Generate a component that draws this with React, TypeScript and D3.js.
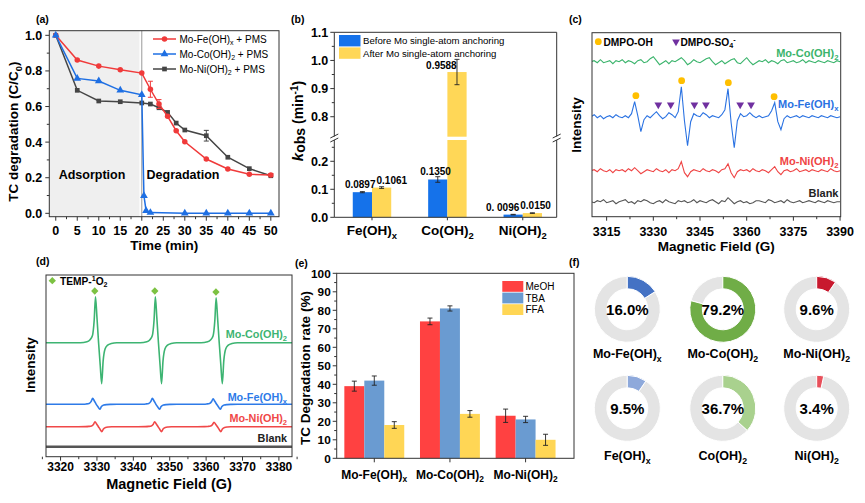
import React from "react";
import * as d3 from "d3";

const FONT = "'Liberation Sans', Arial, Helvetica, sans-serif";

// ---------------- (a) TC degradation ----------------
const timeA = [0, 5, 10, 15, 20, 22, 24, 26, 28, 30, 35, 40, 45, 50];
const moFeA = [1.0, 0.861, 0.827, 0.807, 0.788, 0.697, 0.614, 0.545, 0.464, 0.402, 0.305, 0.249, 0.219, 0.215];
const moFeAErr = [0, 0, 0, 0, 0, 0.045, 0.025, 0, 0, 0, 0, 0, 0, 0.008];
const timeCoA = [0, 5, 10, 15, 20, 20.5, 21, 22, 30, 35, 40, 45, 50];
const moCoA = [1.0, 0.758, 0.743, 0.691, 0.666, 0.099, 0.015, 0.004, 0, 0, 0, 0, 0];
const moNiA = [1.0, 0.691, 0.631, 0.627, 0.62, 0.614, 0.593, 0.567, 0.507, 0.468, 0.436, 0.315, 0.251, 0.211];
const moNiAErr = [0, 0, 0, 0, 0, 0, 0, 0, 0, 0, 0.03, 0, 0, 0];
const legendA = ["Mo-Fe(OH)_x + PMS", "Mo-Co(OH)_2 + PMS", "Mo-Ni(OH)_2 + PMS"];
const xTicksA = [0, 5, 10, 15, 20, 25, 30, 35, 40, 45, 50];
const yTicksA = [0, 0.2, 0.4, 0.6, 0.8, 1.0];

// ---------------- (b) kobs ----------------
const catB = ["Fe(OH)_x", "Co(OH)_2", "Ni(OH)_2"];
const beforeB = [0.0897, 0.135, 0.0096];
const afterB = [0.1061, 0.9588, 0.015];
const beforeErrB = [0.002, 0.01, 0.001];
const afterErrB = [0.003, 0.045, 0.001];
const beforeLblB = ["0.0897", "0.1350", "0. 0096"];
const afterLblB = ["0.1061", "0.9588", "0.0150"];
const legendB = ["Before Mo single-atom anchoring", "After Mo single-atom anchoring"];
const yTicksBLow = [0, 0.1, 0.2];
const yTicksBHigh = [0.8, 0.9, 1.0, 1.1];

// ---------------- (c) DMPO EPR (1 G steps from 3310 G) ----------------
const fieldStartC = 3310;
const moCoC = [0, 1, -1, 2, -1, 0, 1, -2, 1, 0, 2, -1, 1, 0, -2, 1, 2, -1, 0, 3, 5, 1, -3, -1, 1, -2, 1, 0, 2, 4, 1, -3, -1, 2, 0, -1, 1, 3, 4, 0, -3, -1, 1, -2, 0, 2, 3, -1, -2, 1, 4, 0, -3, -1, 1, 0, 2, -1, 1, 0, -2, 1, 2, -1, 0, 1, -1, 0, 2, -1, 1, 0, -1, 1, 0, -1, 1, 0, -1, 1, 0];
const moFeC = [0, 2, -1, 1, -2, 0, 1, -1, 2, 0, -1, 1, -1, 3, 15, 1, -15, -3, 1, -1, 2, 5, 1, -2, 0, 4, 2, -1, 5, 30, -4, -29, -5, 3, 1, 0, 4, 2, -1, 1, 0, -1, 2, 7, 28, -6, -31, -4, 3, 0, 1, 4, 1, -1, 1, -1, 0, 1, 6, 14, -5, -13, -2, 1, -1, 0, 1, -1, 1, 0, -1, 1, 0, -1, 1, 0, -1, 1, 0, -1, 0];
const moNiC = [0, 1, -1, 2, 0, -1, 1, -2, 1, 0, 1, -1, 2, 0, 3, 0, -3, -1, 1, 0, -1, 2, 0, -1, 1, -2, 1, 0, 2, 9, -2, -6, -1, 1, 0, -1, 2, 0, -1, 1, 0, -2, 1, 2, 7, -2, -7, -1, 1, 0, 1, -1, 2, 0, -1, 1, 0, -2, 1, 4, -1, -4, 0, 1, -1, 0, 2, -1, 0, 1, -1, 1, 0, -1, 1, 0, -1, 2, 0, -1, 0];
const blankC = [0, -1, 1, 0, 2, -1, 0, 1, -2, 0, 1, 2, -1, 0, -2, 1, 0, 2, 1, -1, -2, 0, 1, -1, 2, 0, -1, -2, 1, 0, 1, -1, 0, 2, -1, 1, 0, -1, 1, 2, 0, -2, 1, 0, 4, 1, -2, 0, 1, -1, 0, -2, -1, 1, 1, 0, -1, 2, 1, -1, 0, 1, -1, 2, 0, -1, 0, 1, -1, 0, 1, 0, -1, 1, 0, -1, 1, 0, -1, 0, 0];
const ohMarksC = [3324.4, 3339.1, 3354.1, 3368.8];
const so4MarksC = [3331.6, 3335.6, 3343.2, 3346.9, 3357.9, 3361.4];
const xTicksC = [3315, 3330, 3345, 3360, 3375, 3390];

// ---------------- (d) TEMP EPR ----------------
const coCentresD = [3330.45, 3346.9, 3363.6];
const coUpD = [46, 46, 45];
const coDownD = [41, 41, 41];
const feCentresD = [3329.8, 3346.2, 3362.9];
const feUpD = [6, 6, 5.5];
const feDownD = [5, 5, 5];
const niCentresD = [3330.4, 3346.8, 3363.1];
const niUpD = [5, 5, 4.5];
const niDownD = [5, 5, 5];
const tempMarksD = [3329.4, 3345.9, 3362.7];
const xTicksD = [3320, 3330, 3340, 3350, 3360, 3370, 3380];

// ---------------- (e) scavengers ----------------
const catE = ["Mo-Fe(OH)_x", "Mo-Co(OH)_2", "Mo-Ni(OH)_2"];
const meohE = [39, 74, 23];
const meohErrE = [2.7, 1.8, 3.6];
const tbaE = [42, 81, 21];
const tbaErrE = [2.5, 1.4, 1.7];
const ffaE = [18, 24, 10];
const ffaErrE = [1.8, 1.8, 3.0];
const legendE = ["MeOH", "TBA", "FFA"];
const yTicksE = [0, 10, 20, 30, 40, 50, 60, 70, 80, 90, 100];

// ---------------- (f) donuts ----------------
const donutLabels = ["Mo-Fe(OH)_x", "Mo-Co(OH)_2", "Mo-Ni(OH)_2", "Fe(OH)_x", "Co(OH)_2", "Ni(OH)_2"];
const donutValues = [16.0, 79.2, 9.6, 9.5, 36.7, 3.4];
const donutText = ["16.0%", "79.2%", "9.6%", "9.5%", "36.7%", "3.4%"];

// ---------------- helpers ----------------
function parts(s: string, size: number) {
  const re = /([_^])(\{[^}]*\}|.)/g;
  const out: { t: string; k: number }[] = [];
  let last = 0;
  let m: RegExpExecArray | null;
  while ((m = re.exec(s))) {
    if (m.index > last) out.push({ t: s.slice(last, m.index), k: 0 });
    let t = m[2];
    if (t[0] === "{") t = t.slice(1, -1);
    out.push({ t, k: m[1] === "_" ? 1 : -1 });
    last = re.lastIndex;
  }
  if (last < s.length) out.push({ t: s.slice(last), k: 0 });
  let off = 0;
  return out.map((p, i) => {
    const target = p.k === 1 ? size * 0.28 : p.k === -1 ? -size * 0.38 : 0;
    const dy = target - off;
    off = target;
    return (
      <tspan key={i} dy={dy} fontSize={p.k ? size * 0.7 : size}>
        {p.t}
      </tspan>
    );
  });
}

function T({ x, y, s, size = 12, w = "bold", a = "start", fill = "#000", rot = 0 }: any) {
  return (
    <text
      transform={`translate(${x},${y})` + (rot ? ` rotate(${rot})` : "")}
      fontSize={size}
      fontWeight={w}
      textAnchor={a}
      fill={fill}
      fontFamily={FONT}
    >
      {parts(s, size)}
    </text>
  );
}

const AX = "#333";

function PanelA() {
  const x = d3.scaleLinear([-1.5, 51.9], [49.3, 279]);
  const y = d3.scaleLinear([-0.019, 1.026], [216.7, 30.7]);
  const [L, R] = x.range();
  const [B, TOP] = y.range();
  const line = d3.line<[number, number]>().x((d) => x(d[0])).y((d) => y(d[1]));
  const series = [
    { t: timeA, v: moNiA, e: moNiAErr, c: "#454545", sym: d3.symbolSquare, sz: 22 },
    { t: timeA, v: moFeA, e: moFeAErr, c: "#F03A3A", sym: d3.symbolCircle, sz: 24 },
    { t: timeCoA, v: moCoA, e: null as any, c: "#1E6FE3", sym: d3.symbolTriangle, sz: 26 },
  ];
  const legendOrder = [1, 2, 0];
  return (
    <g>
      <rect x={L} y={TOP} width={x(19.45) - L} height={B - TOP} fill="#EFEFEF" />
      <line x1={x(20)} x2={x(20)} y1={TOP} y2={B} stroke="#9A9A9A" strokeWidth={1} />
      <rect x={L} y={TOP} width={R - L} height={B - TOP} fill="none" stroke={AX} />
      {xTicksA.map((t) => (
        <g key={t}>
          <line x1={x(t)} x2={x(t)} y1={B} y2={B + 4} stroke={AX} />
          <T x={x(t)} y={B + 18} s={String(t)} size={12.5} a="middle" />
        </g>
      ))}
      {xTicksA.slice(0, -1).map((t) => (
        <line key={"m" + t} x1={x(t + 2.5)} x2={x(t + 2.5)} y1={B} y2={B + 2.5} stroke={AX} />
      ))}
      {yTicksA.map((t) => (
        <g key={t}>
          <line x1={L - 4} x2={L} y1={y(t)} y2={y(t)} stroke={AX} />
          <T x={L - 7} y={y(t) + 4.5} s={t.toFixed(1)} size={12.5} a="end" />
        </g>
      ))}
      {yTicksA.slice(0, -1).map((t) => (
        <line key={"m" + t} x1={L - 2.5} x2={L} y1={y(t + 0.1)} y2={y(t + 0.1)} stroke={AX} />
      ))}
      {series.map((s, si) => (
        <g key={si}>
          <path d={line(s.t.map((t, i) => [t, s.v[i]]) as any) || ""} fill="none" stroke={s.c} strokeWidth={1.5} />
          {s.e &&
            s.t.map((t, i) =>
              s.e[i] > 0 ? (
                <g key={"e" + i} stroke={s.c} strokeWidth={1}>
                  <line x1={x(t)} x2={x(t)} y1={y(s.v[i] - s.e[i])} y2={y(s.v[i] + s.e[i])} />
                  <line x1={x(t) - 2.5} x2={x(t) + 2.5} y1={y(s.v[i] - s.e[i])} y2={y(s.v[i] - s.e[i])} />
                  <line x1={x(t) - 2.5} x2={x(t) + 2.5} y1={y(s.v[i] + s.e[i])} y2={y(s.v[i] + s.e[i])} />
                </g>
              ) : null
            )}
          {s.t.map((t, i) => (
            <path key={i} transform={`translate(${x(t)},${y(s.v[i])})`} d={d3.symbol(s.sym, s.sz)() || ""} fill={s.c} />
          ))}
        </g>
      ))}
      {legendOrder.map((si, k) => {
        const s = series[si];
        const ly = 39 + k * 15;
        return (
          <g key={k}>
            <line x1={153} x2={176} y1={ly} y2={ly} stroke={s.c} strokeWidth={1.5} />
            <path transform={`translate(164.5,${ly})`} d={d3.symbol(s.sym, s.sz)() || ""} fill={s.c} />
            <T x={179.5} y={ly + 3.6} s={legendA[k]} size={10} w="normal" />
          </g>
        );
      })}
      <T x={92} y={178.5} s="Adsorption" size={12.5} a="middle" />
      <T x={183} y={178.5} s="Degradation" size={12.5} a="middle" />
      <T x={(L + R) / 2} y={250} s="Time (min)" size={13.5} a="middle" />
      <T x={18} y={131.7} s="TC degradation (C/C_0)" size={13.5} a="middle" rot={-90} />
      <T x={36} y={23} s="(a)" size={10.5} />
    </g>
  );
}

function PanelB() {
  const x = d3.scaleLinear([0.5, 3.45], [334.3, 556.7]);
  const yLo = d3.scaleLinear([0, 0.276], [217.3, 140]);
  const yHi = d3.scaleLinear([0.729, 1.1], [136.7, 32.3]);
  const y = (v: number) => (v <= 0.276 ? yLo(v) : yHi(v));
  const [L, R] = x.range();
  const B = 217.3;
  const TOP = 32.3;
  const bw = x(0.255) - x(0);
  const blue = "#1572EA";
  const yellow = "#FFD757";
  const shift = [0, 0, -7];
  const bar = (cx: number, v: number, c: string, key: string) => {
    const els = [] as any[];
    els.push(<rect key={key + "lo"} x={cx - bw / 2} y={yLo(Math.min(v, 0.276))} width={bw} height={B - yLo(Math.min(v, 0.276))} fill={c} />);
    if (v > 0.729) els.push(<rect key={key + "hi"} x={cx - bw / 2} y={yHi(v)} width={bw} height={yHi(0.729) - yHi(v)} fill={c} />);
    return els;
  };
  const err = (cx: number, v: number, e: number, key: string) => (
    <g key={key} stroke="#222" strokeWidth={0.9}>
      <line x1={cx} x2={cx} y1={y(v - e)} y2={y(v + e)} />
      <line x1={cx - 2.5} x2={cx + 2.5} y1={y(v - e)} y2={y(v - e)} />
      <line x1={cx - 2.5} x2={cx + 2.5} y1={y(v + e)} y2={y(v + e)} />
    </g>
  );
  const brk = (bx: number) => (
    <g stroke={AX} strokeWidth={1}>
      <rect x={bx - 2} y={136.7} width={4} height={3.3} fill="#fff" stroke="none" />
      <line x1={bx - 4} x2={bx + 4} y1={138} y2={134} />
      <line x1={bx - 4} x2={bx + 4} y1={142} y2={138} />
    </g>
  );
  return (
    <g>
      {catB.map((c, i) => {
        const gc = x(i + 1);
        return (
          <g key={c}>
            {bar(gc - bw / 2, beforeB[i], blue, "b" + i)}
            {bar(gc + bw / 2, afterB[i], yellow, "a" + i)}
            {err(gc - bw / 2, beforeB[i], beforeErrB[i], "eb" + i)}
            {err(gc + bw / 2, afterB[i], afterErrB[i], "ea" + i)}
            <T x={gc + 3.5 + shift[i]} y={y(beforeB[i]) - 4} s={beforeLblB[i]} size={10} a="end" />
            {afterB[i] > 0.729 ? (
              <T x={gc - 6} y={y(afterB[i]) - 3} s={afterLblB[i]} size={10} a="middle" />
            ) : (
              <T x={gc + 4.5 + shift[i]} y={y(afterB[i]) - 4} s={afterLblB[i]} size={10} a="start" />
            )}
            <line x1={gc} x2={gc} y1={B} y2={B + 3} stroke={AX} />
            <T x={gc} y={235} s={c} size={13.5} a="middle" />
          </g>
        );
      })}
      <g stroke={AX} fill="none">
        <line x1={L} x2={R} y1={TOP} y2={TOP} />
        <line x1={L} x2={R} y1={B} y2={B} />
        <line x1={L} x2={L} y1={TOP} y2={136.7} />
        <line x1={L} x2={L} y1={140} y2={B} />
        <line x1={R} x2={R} y1={TOP} y2={136.7} />
        <line x1={R} x2={R} y1={140} y2={B} />
      </g>
      {brk(L)}
      {brk(R)}
      {yTicksBLow.map((t) => (
        <g key={"l" + t}>
          <line x1={L - 4} x2={L} y1={yLo(t)} y2={yLo(t)} stroke={AX} />
          <line x1={L - 2.5} x2={L} y1={yLo(t + 0.05)} y2={yLo(t + 0.05)} stroke={AX} />
          <T x={L - 6} y={yLo(t) + 4.5} s={t.toFixed(1)} size={12.5} a="end" />
        </g>
      ))}
      {yTicksBHigh.map((t) => (
        <g key={"h" + t}>
          <line x1={L - 4} x2={L} y1={yHi(t)} y2={yHi(t)} stroke={AX} />
          {t > 0.8 && <line x1={L - 2.5} x2={L} y1={yHi(t - 0.05)} y2={yHi(t - 0.05)} stroke={AX} />}
          <T x={L - 6} y={yHi(t) + 4.5} s={t.toFixed(1)} size={12.5} a="end" />
        </g>
      ))}
      {legendB.map((l, k) => (
        <g key={l}>
          <rect x={339} y={35 + k * 12.4} width={21.5} height={11.4} fill={k === 0 ? blue : yellow} />
          <T x={363} y={44.3 + k * 12.4} s={l} size={9.6} w="normal" />
        </g>
      ))}
      <text transform="translate(303,121) rotate(-90)" textAnchor="middle" fontFamily={FONT} fontWeight="bold" fontSize={14}>
        <tspan fontStyle="italic" fontSize={15}>k</tspan>
        <tspan dy={2}>obs</tspan>
        <tspan dy={-2}> (min</tspan>
        <tspan dy={-5} fontSize={10}>-1</tspan>
        <tspan dy={5}>)</tspan>
      </text>
      <T x={291} y={23} s="(b)" size={10.5} />
    </g>
  );
}

function PanelC() {
  const x = d3.scaleLinear([3310.3, 3390.2], [592, 840.7]);
  const y = d3.scaleLinear([0, 184], [216.7, 32.7]);
  const [L, R] = x.range();
  const [B, TOP] = y.range();
  const line = d3.line<number>().x((_, i) => x(fieldStartC + i));
  const traces = [
    { d: moCoC, base: 155, c: "#3BB46C", lbl: "Mo-Co(OH)_2", ly: 57 },
    { d: moFeC, base: 100, c: "#2A72E2", lbl: "Mo-Fe(OH)_x", ly: 108 },
    { d: moNiC, base: 46, c: "#EF4444", lbl: "Mo-Ni(OH)_2", ly: 165 },
    { d: blankC, base: 15, c: "#555555", lbl: "Blank", ly: 196.5 },
  ];
  const tri = d3.symbol(d3.symbolTriangle, 26)() || "";
  return (
    <g>
      <defs>
        <clipPath id="clipC">
          <rect x={L} y={TOP} width={R - L} height={B - TOP} />
        </clipPath>
      </defs>
      <g clipPath="url(#clipC)">
        {traces.map((t) => (
          <path key={t.lbl} d={line.y((v) => y(t.base + v))(t.d) || ""} fill="none" stroke={t.c} strokeWidth={1.1} />
        ))}
      </g>
      {traces.map((t) => (
        <T key={"l" + t.lbl} x={838.5} y={t.ly} s={t.lbl} size={11} a="end" fill={t.c === "#555555" ? "#222" : t.c} />
      ))}
      {ohMarksC.map((g) => {
        const v = moFeC[Math.round(g) - fieldStartC];
        return <circle key={g} cx={x(g)} cy={y(100 + v + 6)} r={3.4} fill="#FFBF00" />;
      })}
      {so4MarksC.map((g) => (
        <path key={g} transform={`translate(${x(g)},${y(112)}) rotate(180)`} d={tri} fill="#7030A0" />
      ))}
      <rect x={L} y={TOP} width={R - L} height={B - TOP} fill="none" stroke={AX} />
      {xTicksC.map((t) => (
        <g key={t}>
          <line x1={x(t)} x2={x(t)} y1={B} y2={B + 4} stroke={AX} />
          <T x={x(t)} y={236} s={String(t)} size={12.5} a="middle" />
        </g>
      ))}
      {xTicksC.slice(0, -1).map((t) => (
        <line key={"m" + t} x1={x(t + 7.5)} x2={x(t + 7.5)} y1={B} y2={B + 2.5} stroke={AX} />
      ))}
      <circle cx={598.3} cy={41.7} r={3.4} fill="#FFBF00" />
      <T x={603.5} y={45.5} s="DMPO-OH" size={10.2} />
      <path transform="translate(676,41.7) rotate(180)" d={tri} fill="#7030A0" />
      <T x={680.5} y={45.5} s="DMPO-SO_4^-" size={10.2} />
      <T x={(L + R) / 2} y={251} s="Magnetic Field (G)" size={13.5} a="middle" />
      <T x={581} y={125} s="Intensity" size={13.5} a="middle" rot={-90} />
      <T x={569} y={23} s="(c)" size={10.5} />
    </g>
  );
}

const shapeDx = [-5, -3.2, -2.4, -1.7, -1.2, -0.85, -0.45, 0, 0.45, 0.85, 1.25, 1.8, 2.5, 3.5, 5];
const shapeFrac = [0, 0.02, 0.06, 0.15, 0.5, 1, 0.55, 0, -0.55, -1, -0.45, -0.15, -0.06, -0.02, 0];

function PanelD() {
  const x = d3.scaleLinear([3316, 3383.6], [46, 292]);
  const y = d3.scaleLinear([0, 181.7], [456.7, 275]);
  const [L, R] = x.range();
  const [B, TOP] = y.range();
  const build = (centres: number[], up: number[], down: number[], widen: number) => {
    const pts: [number, number][] = [[3316, 0]];
    centres.forEach((c, k) => {
      shapeDx.forEach((dx, j) => {
        const f = shapeFrac[j];
        pts.push([c + dx * widen, f >= 0 ? f * up[k] : f * down[k]]);
      });
    });
    pts.push([3383.6, 0]);
    return pts;
  };
  const line = d3.line<[number, number]>().curve(d3.curveMonotoneX);
  const traces = [
    { p: build(coCentresD, coUpD, coDownD, 1), base: 114, c: "#3DB472", lbl: "Mo-Co(OH)_2", ly: 337.5, w: 1.6 },
    { p: build(feCentresD, feUpD, feDownD, 1.15), base: 52.4, c: "#2E7BE8", lbl: "Mo-Fe(OH)_x", ly: 400.5, w: 1.6 },
    { p: build(niCentresD, niUpD, niDownD, 1.1), base: 30, c: "#F04848", lbl: "Mo-Ni(OH)_2", ly: 422, w: 1.6 },
    { p: [[3316, 0], [3383.6, 0]] as [number, number][], base: 10, c: "#555555", lbl: "Blank", ly: 442, w: 2.4 },
  ];
  const dia = d3.symbol(d3.symbolDiamond2 || d3.symbolDiamond, 34)() || "";
  return (
    <g>
      {traces.map((t) => (
        <path
          key={t.lbl}
          d={line.x((d) => x(d[0])).y((d) => y(t.base + d[1]))(t.p) || ""}
          fill="none"
          stroke={t.c}
          strokeWidth={t.w}
        />
      ))}
      {traces.map((t) => (
        <T key={"l" + t.lbl} x={287} y={t.ly} s={t.lbl} size={10.8} a="end" fill={t.c === "#555555" ? "#222" : t.c} />
      ))}
      {tempMarksD.map((g, k) => (
        <path key={g} transform={`translate(${x(g)},${y(114 + coUpD[k] + 5.7)})`} d={dia} fill="#7CC242" />
      ))}
      <path transform="translate(52.3,280.7)" d={dia} fill="#7CC242" />
      <T x={60} y={284.5} s="TEMP-^1O_2" size={10.2} />
      <rect x={L} y={TOP} width={R - L} height={B - TOP} fill="none" stroke={AX} />
      {xTicksD.map((t) => (
        <g key={t}>
          <line x1={x(t)} x2={x(t)} y1={B} y2={B + 4} stroke={AX} />
          <T x={x(t)} y={471} s={String(t)} size={12} a="middle" />
        </g>
      ))}
      {xTicksD.map((t) => (
        <line key={"m" + t} x1={x(t - 5)} x2={x(t - 5)} y1={B} y2={B + 2.5} stroke={AX} />
      ))}
      <line x1={x(3385)} x2={x(3385)} y1={B} y2={B + 2.5} stroke={AX} />
      <T x={(L + R) / 2} y={489} s="Magnetic Field (G)" size={14.5} a="middle" />
      <T x={35} y={365} s="Intensity" size={13.5} a="middle" rot={-90} />
      <T x={36} y={265} s="(d)" size={10.5} />
    </g>
  );
}

function PanelE() {
  const x = d3.scaleLinear([0.503, 3.64], [336.7, 574]);
  const y = d3.scaleLinear([0, 100], [458.3, 273.3]);
  const [L, R] = x.range();
  const [B, TOP] = y.range();
  const bw = x(0.264) - x(0);
  const sets = [
    { v: meohE, e: meohErrE, c: "#FF4141", off: -1 },
    { v: tbaE, e: tbaErrE, c: "#6A9BD1", off: 0 },
    { v: ffaE, e: ffaErrE, c: "#FFD655", off: 1 },
  ];
  return (
    <g>
      {catE.map((cat, i) => {
        const gc = x(i + 1);
        return (
          <g key={cat}>
            {sets.map((s, k) => {
              const cx = gc + s.off * bw;
              const v = s.v[i];
              const e = s.e[i];
              return (
                <g key={k}>
                  <rect x={cx - bw / 2} y={y(v)} width={bw} height={B - y(v)} fill={s.c} />
                  <g stroke="#222" strokeWidth={0.9}>
                    <line x1={cx} x2={cx} y1={y(v - e)} y2={y(v + e)} />
                    <line x1={cx - 2.5} x2={cx + 2.5} y1={y(v - e)} y2={y(v - e)} />
                    <line x1={cx - 2.5} x2={cx + 2.5} y1={y(v + e)} y2={y(v + e)} />
                  </g>
                </g>
              );
            })}
            <line x1={gc} x2={gc} y1={B} y2={B + 4} stroke={AX} />
            <T x={gc} y={479} s={cat} size={12} a="middle" />
          </g>
        );
      })}
      <rect x={L} y={TOP} width={R - L} height={B - TOP} fill="none" stroke={AX} />
      {yTicksE.map((t) => (
        <g key={t}>
          <line x1={L - 4} x2={L} y1={y(t)} y2={y(t)} stroke={AX} />
          {t < 100 && <line x1={L - 2.5} x2={L} y1={y(t + 5)} y2={y(t + 5)} stroke={AX} />}
          <T x={L - 6} y={y(t) + 4.2} s={String(t)} size={11.8} a="end" />
        </g>
      ))}
      {legendE.map((l, k) => (
        <g key={l}>
          <rect x={502.3} y={281 + k * 11.6} width={21} height={10.8} fill={sets[k].c} />
          <T x={525.5} y={290 + k * 11.6} s={l} size={10} w="normal" />
        </g>
      ))}
      <T x={310} y={368} s="TC Degradation rate (%)" size={13.5} a="middle" rot={-90} />
      <T x={295} y={267} s="(e)" size={10.5} />
    </g>
  );
}

function PanelF() {
  const cxs = [627.3, 722.8, 816.7];
  const cys = [309.3, 408.3];
  const lblY = [358, 460];
  const colors = ["#4472C4", "#70AD47", "#C8192E", "#8EA9DB", "#A9D18E", "#E8505B"];
  const arc = d3.arc<any>().innerRadius(20.5).outerRadius(33);
  return (
    <g>
      {donutValues.map((v, i) => {
        const cx = cxs[i % 3];
        const cy = cys[Math.floor(i / 3)];
        const a = (2 * Math.PI * v) / 100;
        return (
          <g key={i}>
            <g transform={`translate(${cx},${cy})`}>
              <path d={arc({ startAngle: a, endAngle: 2 * Math.PI }) || ""} fill="#E4E4E4" stroke="#fff" strokeWidth={1} />
              <path d={arc({ startAngle: 0, endAngle: a }) || ""} fill={colors[i]} stroke="#fff" strokeWidth={1} />
            </g>
            <T x={cx} y={cy + 5.5} s={donutText[i]} size={15} a="middle" />
            <T x={cx} y={lblY[Math.floor(i / 3)]} s={donutLabels[i]} size={12.5} a="middle" />
          </g>
        );
      })}
      <T x={569} y={266} s="(f)" size={10.5} />
    </g>
  );
}

export default function App() {
  return (
    <svg
      width={865}
      height={503}
      viewBox="0 0 865 503"
      style={{ position: "absolute", left: 0, top: 0, background: "#fff" }}
      fontFamily={FONT}
    >
      <rect x={0} y={0} width={865} height={503} fill="#fff" />
      <PanelA />
      <PanelB />
      <PanelC />
      <PanelD />
      <PanelE />
      <PanelF />
    </svg>
  );
}
